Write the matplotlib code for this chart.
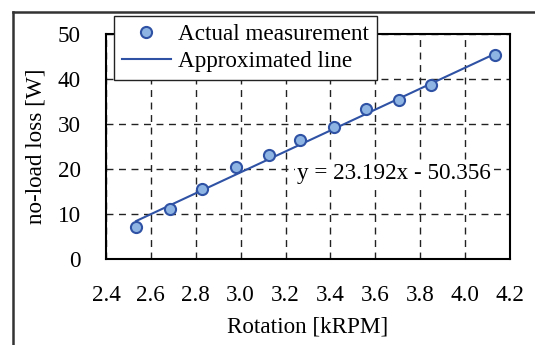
import matplotlib
matplotlib.use("Agg")
import matplotlib.pyplot as plt
from matplotlib.lines import Line2D

rpm = [2.534, 2.683, 2.829, 2.978, 3.128, 3.266, 3.415, 3.560, 3.707, 3.848, 4.135]
loss = [7.2, 11.1, 15.6, 20.5, 23.1, 26.3, 29.3, 33.3, 35.2, 38.6, 45.3]

slope = 23.192
intercept = -50.356

xticks = [2.4, 2.6, 2.8, 3.0, 3.2, 3.4, 3.6, 3.8, 4.0, 4.2]
yticks = [0, 10, 20, 30, 40, 50]

plt.rcParams['font.family'] = ['Liberation Serif', 'DejaVu Serif']
plt.rcParams['font.size'] = 16.7

fig = plt.figure(figsize=(5.35, 3.45), dpi=100)
ax = fig.add_axes([106/535, 1 - 259/345, (510-106)/535, (259-33.5)/345])

ax.grid(True, color='#222222', linestyle=(0, (5, 4)), linewidth=1.0)
ax.set_axisbelow(True)

fit_x = [rpm[0], rpm[-1]]
fit_y = [slope*v + intercept for v in fit_x]
ax.plot(fit_x, fit_y, color='#2f52a5', lw=1.5, zorder=3, label='Approximated line')
ax.plot(rpm, loss, 'o', ms=8, mfc='#8db4e2', mec='#2f52a5', mew=1.5, zorder=4,
        label='Actual measurement')

ax.set_xlim(2.4, 4.2)
ax.set_ylim(0, 50)
ax.set_xticks(xticks)
ax.set_xticklabels(['%.1f' % v for v in xticks])
ax.set_yticks(yticks)
ax.tick_params(axis='x', length=0, pad=19)
ax.tick_params(axis='y', length=0, pad=18)
for s in ax.spines.values():
    s.set_color('black')
    s.set_linewidth(1.5)

ax.set_xlabel('Rotation [kRPM]', labelpad=7)
ax.set_ylabel('no-load loss [W]', labelpad=8)

ax.text(3.251, 19.0, 'y = 23.192x - 50.356', ha='left', va='center', zorder=5,
        bbox=dict(facecolor='white', edgecolor='none', pad=1.5))

handles = [Line2D([], [], ls='none', marker='o', ms=8, mfc='#8db4e2', mec='#2f52a5', mew=1.5),
           Line2D([], [], color='#2f52a5', lw=1.5)]
leg = fig.legend(handles, ['Actual measurement', 'Approximated line'],
                 loc='upper left', bbox_to_anchor=(114/535, 1 - 16/345),
                 frameon=True, fancybox=False, edgecolor='#222222', framealpha=1,
                 borderpad=0.35, labelspacing=0.22, handlelength=2.1, handletextpad=0.3,
                 borderaxespad=0)
leg.get_frame().set_linewidth(1.0)

# outer frame (left and top edges of the cropped figure)
fig.add_artist(Line2D([13/535, 13/535], [0, 1 - 12/345], color='#333333', lw=1.8,
                      transform=fig.transFigure))
fig.add_artist(Line2D([13/535, 1], [1 - 12/345, 1 - 12/345], color='#333333', lw=1.8,
                      transform=fig.transFigure))

fig.savefig('out.png', dpi=100)
